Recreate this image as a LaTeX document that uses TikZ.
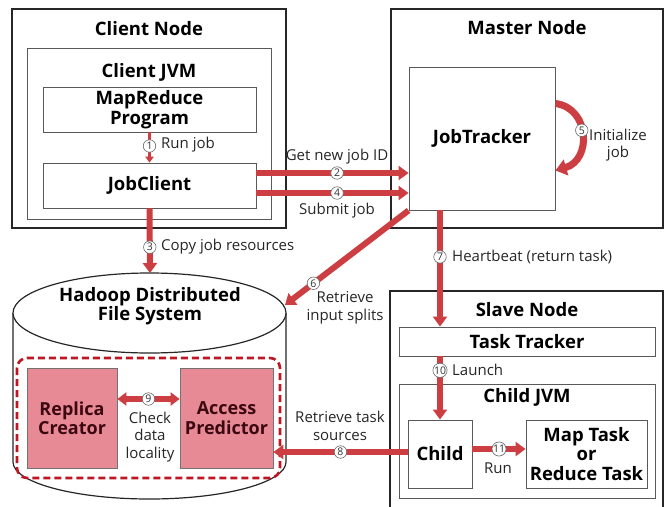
\documentclass[tikz,border=0pt]{standalone}
\usepackage{fontspec}
\setmainfont{Open Sans}
\usetikzlibrary{arrows.meta,calc}

\definecolor{flowred}{RGB}{204,62,66}
\definecolor{modfill}{RGB}{232,138,150}
\definecolor{modtext}{RGB}{60,8,16}
\definecolor{dashred}{RGB}{190,22,34}

\begin{document}
\begin{tikzpicture}[x=1pt,y=-1pt,
  outer/.style={draw=black!85, line width=1.2pt, fill=white, inner sep=0pt},
  inner/.style={draw=black!65, line width=0.9pt, fill=white, inner sep=0pt},
  title/.style={font=\fontsize{18.5}{20}\selectfont\bfseries},
  boxtext/.style={font=\fontsize{18.5}{19.5}\selectfont\bfseries, align=center},
  module/.style={draw=black!55, line width=0.8pt, fill=modfill, inner sep=0pt,
    font=\fontsize{18}{19.5}\selectfont\bfseries, text=modtext, align=center},
  lbl/.style={font=\fontsize{15}{17.5}\selectfont, align=center, text=black!85, inner sep=0pt},
  flow/.style={draw=flowred, line width=6pt, -{Triangle[length=10pt,width=14pt]}},
  flowthin/.style={draw=flowred, line width=2.8pt, -{Triangle[length=6pt,width=8.5pt]}},
  num/.style={circle, draw=black!60, fill=white, line width=0.6pt, inner sep=0pt,
    minimum size=12.5pt, font=\fontsize{10.5}{10.5}\selectfont, text=black!80}]

\useasboundingbox (0,0) rectangle (669,506);
\clip (0,0) rectangle (669,506);

% ---- client side ----
\node[outer, minimum width=274pt, minimum height=219pt] (clientnode) at (149,118.5) {};
\node[title] (clientnodet) at (149,29) {Client Node};
\node[inner, minimum width=244pt, minimum height=171pt] (clientjvm) at (149,133.5) {};
\node[title] (clientjvmt) at (149,72) {Client JVM};
\node[inner, boxtext, minimum width=213pt, minimum height=45pt] (mrprog) at (149.5,109.5) {MapReduce\\Program};
\node[inner, boxtext, minimum width=213pt, minimum height=45pt] (jobclient) at (149.5,185.5) {JobClient};

% ---- master side ----
\node[outer, minimum width=272pt, minimum height=219pt] (masternode) at (527,118.5) {};
\node[title] (masternodet) at (527,28) {Master Node};
\node[inner, boxtext, minimum width=146pt, minimum height=143pt] (jobtracker) at (482,138.5) {JobTracker};

% ---- slave side ----
\node[outer, minimum width=273pt, minimum height=230pt] (slavenode) at (526.5,406) {};
\node[title] (slavenodet) at (527,310) {Slave Node};
\node[inner, boxtext, minimum width=256pt, minimum height=29pt] (tasktracker) at (527,341.5) {Task Tracker};
\node[inner, minimum width=256pt, minimum height=114pt] (childjvm) at (527,441) {};
\node[title] (childjvmt) at (527,397) {Child JVM};
\node[inner, boxtext, minimum width=64pt, minimum height=68pt] (child) at (440,454) {Child};
\node[inner, boxtext, minimum width=121pt, minimum height=68pt] (maptask) at (586.5,454) {Map Task\\or\\Reduce Task};

% ---- HDFS cylinder ----
\coordinate (hdfsc) at (149.5,313);
\filldraw[draw=black!85, line width=1.2pt, fill=white]
  (13,313) -- (13,462) arc[start angle=180, end angle=0, x radius=136.5, y radius=37] -- (286,313);
\draw[black!85, line width=1.2pt, fill=white] (hdfsc) ellipse[x radius=136.5, y radius=40];
\node[boxtext] (hdfs) at (150,306) {Hadoop Distributed\\File System};
\coordinate (hdfstop) at (150,273);
\coordinate (hdfsedge) at (285,305);

\draw[dashred, line width=2.6pt, dash pattern=on 7pt off 4pt, rounded corners=10pt]
  (17,358) rectangle (280,478);
\node[module, minimum width=90pt, minimum height=100pt] (replica) at (72,418) {Replica\\Creator};
\node[module, minimum width=93pt, minimum height=100pt] (predictor) at (226.5,418) {Access\\Predictor};

% ---- flows ----
\draw[flowthin] (mrprog.south) -- (jobclient.north) node[num, pos=0.45] (n1) {1};
\node[lbl, anchor=west] (l1) at (161,145) {Run job};

\draw[flow] ([yshift=12.5pt]jobclient.east) -- ([yshift=12.5pt]jobclient.east -| jobtracker.west)
  node[num, pos=0.53] (n2) {2};
\node[lbl] (l2) at (337,157) {Get new job ID};

\draw[flow] ([yshift=-7.5pt]jobclient.east) -- ([yshift=-7.5pt]jobclient.east -| jobtracker.west)
  node[num, pos=0.53] (n4) {4};
\node[lbl] (l4) at (337,211) {Submit job};

\draw[flow] (jobclient.south) -- (hdfstop) node[num, pos=0.6] (n3) {3};
\node[lbl, anchor=west] (l3) at (161,247) {Copy job resources};

\draw[draw=flowred, line width=7pt, -{Triangle[length=11pt,width=16pt]}]
  ([yshift=35pt]jobtracker.east) .. controls (590,108) and (592,160) .. ([yshift=-32pt]jobtracker.east)
  node[num, pos=0.45] (n5) {5};
\node[lbl] (l5) at (618,145) {Initialize\\job};

\draw[flow] (jobtracker.south west) -- (hdfsedge) node[num, pos=0.77] (n6) {6};
\node[lbl] (l6) at (345,308) {Retrieve\\input splits};

\draw[flow] ([xshift=-42pt]jobtracker.south) -- ([xshift=-42pt]jobtracker.south |- tasktracker.north)
  node[num, pos=0.4] (n7) {7};
\node[lbl, anchor=west] (l7) at (452,257) {Heartbeat (return task)};

\draw[flow] (tasktracker.south -| child.north) -- (child.north) node[num, pos=0.22] (n10) {10};
\node[lbl, anchor=west] (l10) at (452,370) {Launch};

\draw[flow] ([yshift=2pt]child.west) -- ([yshift=2pt]child.west -| predictor.east) node[num, pos=0.5] (n8) {8};
\node[lbl] (l8) at (340,426) {Retrieve task\\sources};

\draw[draw=flowred, line width=6pt, {Triangle[length=9pt,width=13pt]}-{Triangle[length=9pt,width=13pt]}]
  ([yshift=19pt]replica.east) -- ([yshift=19pt]predictor.west) node[num, pos=0.5] (n9) {9};
\node[lbl] (l9) at (150,437) {Check\\data\\locality};

\draw[flow] ([yshift=5pt]child.east) -- ([yshift=5pt]maptask.west) node[num, pos=0.5] (n11) {11};
\node[lbl] (l11) at (498,468) {Run};

\end{tikzpicture}
\end{document}
